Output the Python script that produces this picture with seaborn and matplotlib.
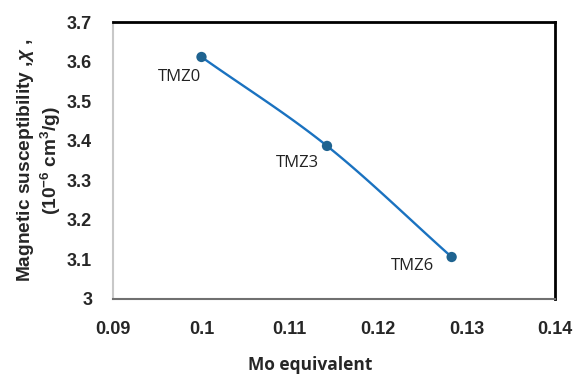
import numpy as np
import pandas as pd
import matplotlib
matplotlib.use("Agg")
import matplotlib.pyplot as plt
import seaborn as sns

# Data
samples = ["TMZ0", "TMZ3", "TMZ6"]
mo_equivalent = [0.100, 0.1142, 0.1283]
susceptibility = [3.612, 3.387, 3.106]

xticks = [0.09, 0.1, 0.11, 0.12, 0.13, 0.14]
xtick_labels = ["0.09", "0.1", "0.11", "0.12", "0.13", "0.14"]
yticks = [3.0, 3.1, 3.2, 3.3, 3.4, 3.5, 3.6, 3.7]
ytick_labels = ["3", "3.1", "3.2", "3.3", "3.4", "3.5", "3.6", "3.7"]

df = pd.DataFrame({"sample": samples, "mo": mo_equivalent, "chi": susceptibility})

# Smooth line through points (Catmull-Rom, like Excel smoothed line)
def catmull_rom(x, y, n=40):
    x = np.asarray(x, float); y = np.asarray(y, float)
    px = np.concatenate([[2 * x[0] - x[1]], x, [2 * x[-1] - x[-2]]])
    py = np.concatenate([[2 * y[0] - y[1]], y, [2 * y[-1] - y[-2]]])
    xs, ys = [], []
    t = np.linspace(0, 1, n)
    for i in range(1, len(px) - 2):
        for arr, out in ((px, xs), (py, ys)):
            p0, p1, p2, p3 = arr[i - 1], arr[i], arr[i + 1], arr[i + 2]
            out.extend(0.5 * ((2 * p1) + (-p0 + p2) * t
                              + (2 * p0 - 5 * p1 + 4 * p2 - p3) * t ** 2
                              + (-p0 + 3 * p1 - 3 * p2 + p3) * t ** 3))
    return np.array(xs), np.array(ys)

sx, sy = catmull_rom(mo_equivalent, susceptibility)
smooth = pd.DataFrame({"mo": sx, "chi": sy})

sns.set_theme(style="white")
plt.rcParams["font.family"] = ["Liberation Sans", "DejaVu Sans"]
plt.rcParams["mathtext.fontset"] = "custom"
plt.rcParams["mathtext.rm"] = "Liberation Sans:bold"
plt.rcParams["mathtext.it"] = "Liberation Sans:italic:bold"
plt.rcParams["mathtext.bf"] = "Liberation Sans:bold"

fig = plt.figure(figsize=(5.74, 3.76), dpi=100)
ax = fig.add_axes([0.197, 0.205, 0.770, 0.736])

sns.lineplot(data=smooth, x="mo", y="chi", ax=ax, color="#1a72c0", linewidth=1.7,
             sort=False, estimator=None)
sns.scatterplot(data=df, x="mo", y="chi", ax=ax, color="#1f6390", s=55,
                edgecolor="none", zorder=3)

offsets = [(-16, -14.5), (-21.5, -12.5), (-28, -6.5)]
for s, x, y, off in zip(samples, mo_equivalent, susceptibility, offsets):
    ax.annotate(s, (x, y), xytext=off, textcoords="offset points",
                ha="center", va="center", fontsize=12, family="Open Sans",
                color="#222222")

ax.set_xlim(0.09, 0.14)
ax.set_ylim(3.0, 3.7)
ax.set_xticks(xticks)
ax.set_xticklabels(xtick_labels, fontsize=13, fontweight="bold")
ax.set_yticks(yticks)
ax.set_yticklabels(ytick_labels, fontsize=13, fontweight="bold")
ax.tick_params(axis="x", length=0, pad=16)
ax.tick_params(axis="y", length=0, pad=15)

ax.set_xlabel("Mo equivalent", fontsize=12.5, fontweight="bold",
              family="Open Sans")
ax.xaxis.set_label_coords(0.446, -0.205)
ax.set_ylabel("Magnetic susceptibility ,$\\chi$ ,\n(10$^{-6}$ cm$^3$/g)",
              fontsize=13.8, fontweight="bold", labelpad=3, linespacing=1.15)

for side in ["top", "right"]:
    ax.spines[side].set_visible(True)
    ax.spines[side].set_color("black")
    ax.spines[side].set_linewidth(2)
ax.spines["left"].set_color("#c8c8c8")
ax.spines["left"].set_linewidth(1.5)
ax.spines["bottom"].set_color("#707070")
ax.spines["bottom"].set_linewidth(1.5)

fig.savefig("out.png", dpi=100)
